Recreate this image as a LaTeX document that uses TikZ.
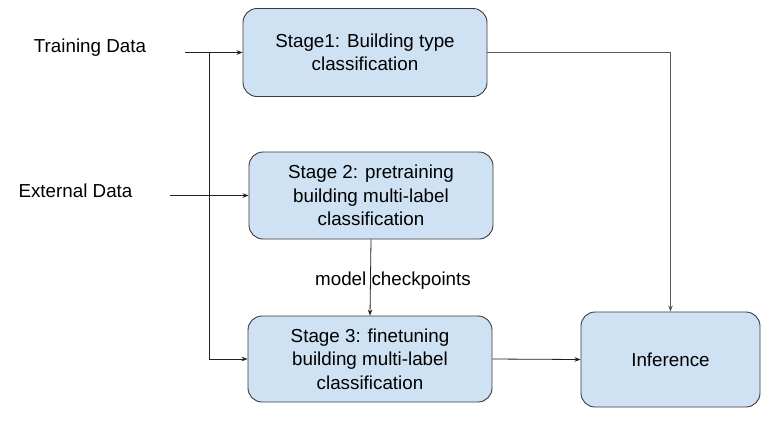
\documentclass[tikz,border=0pt]{standalone}
\usepackage{fontspec}
\setmainfont{Liberation Sans}
\usetikzlibrary{arrows.meta}
\definecolor{boxfill}{HTML}{CFE2F3}
\definecolor{boxline}{HTML}{3A3A3A}
\definecolor{conn}{HTML}{202020}
\begin{document}
\begin{tikzpicture}[x=1pt,y=-1pt,
  stagebox/.style={draw=boxline, fill=boxfill, rounded corners=14pt, line width=0.9pt,
    align=center, inner sep=0pt, font=\fontsize{18.8pt}{23.5pt}\selectfont},
  plain/.style={inner sep=0pt, font=\fontsize{18.8pt}{23.5pt}\selectfont},
  conn/.style={draw=conn, line width=0.8pt, -{Stealth[length=6pt,width=4.5pt]}},
  connline/.style={draw=conn, line width=0.8pt}]
\fill[white] (0,0) rectangle (783,440);
\useasboundingbox (0,0) rectangle (783,440);

\node[stagebox, minimum width=244pt, minimum height=88pt] (s1) at (365,52.5)
  {Stage1: Building type\\classification};
\node[stagebox, minimum width=244pt, minimum height=87pt] (s2) at (371,195.5)
  {Stage 2: pretraining\\building multi-label\\classification};
\node[stagebox, minimum width=244pt, minimum height=86pt] (s3) at (370,359)
  {Stage 3: finetuning\\building multi-label\\classification};
\node[stagebox, minimum width=179pt, minimum height=95pt] (inf) at (670.5,359.5)
  {Inference};

\node[plain] (td) at (90,48) {Training Data};
\node[plain] (ed) at (75.5,191) {External Data};
\node[plain] (mc) at (393,281) {model checkpoints};

\coordinate (tstart) at (185,52.5);
\coordinate (branch) at (209,52.5);
\coordinate (estart) at (170,195.5);

\draw[conn] (tstart) -- (s1.west);
\draw[conn] (branch) |- (s3.west);
\draw[conn] (estart) -- (s2.west);
\draw[conn] (s2.south) -- (s3.north);
\draw[conn] (s3.east) -- (inf.west);
\draw[conn, draw=black!65] (s1.east) -| (inf.north);
\end{tikzpicture}
\end{document}
